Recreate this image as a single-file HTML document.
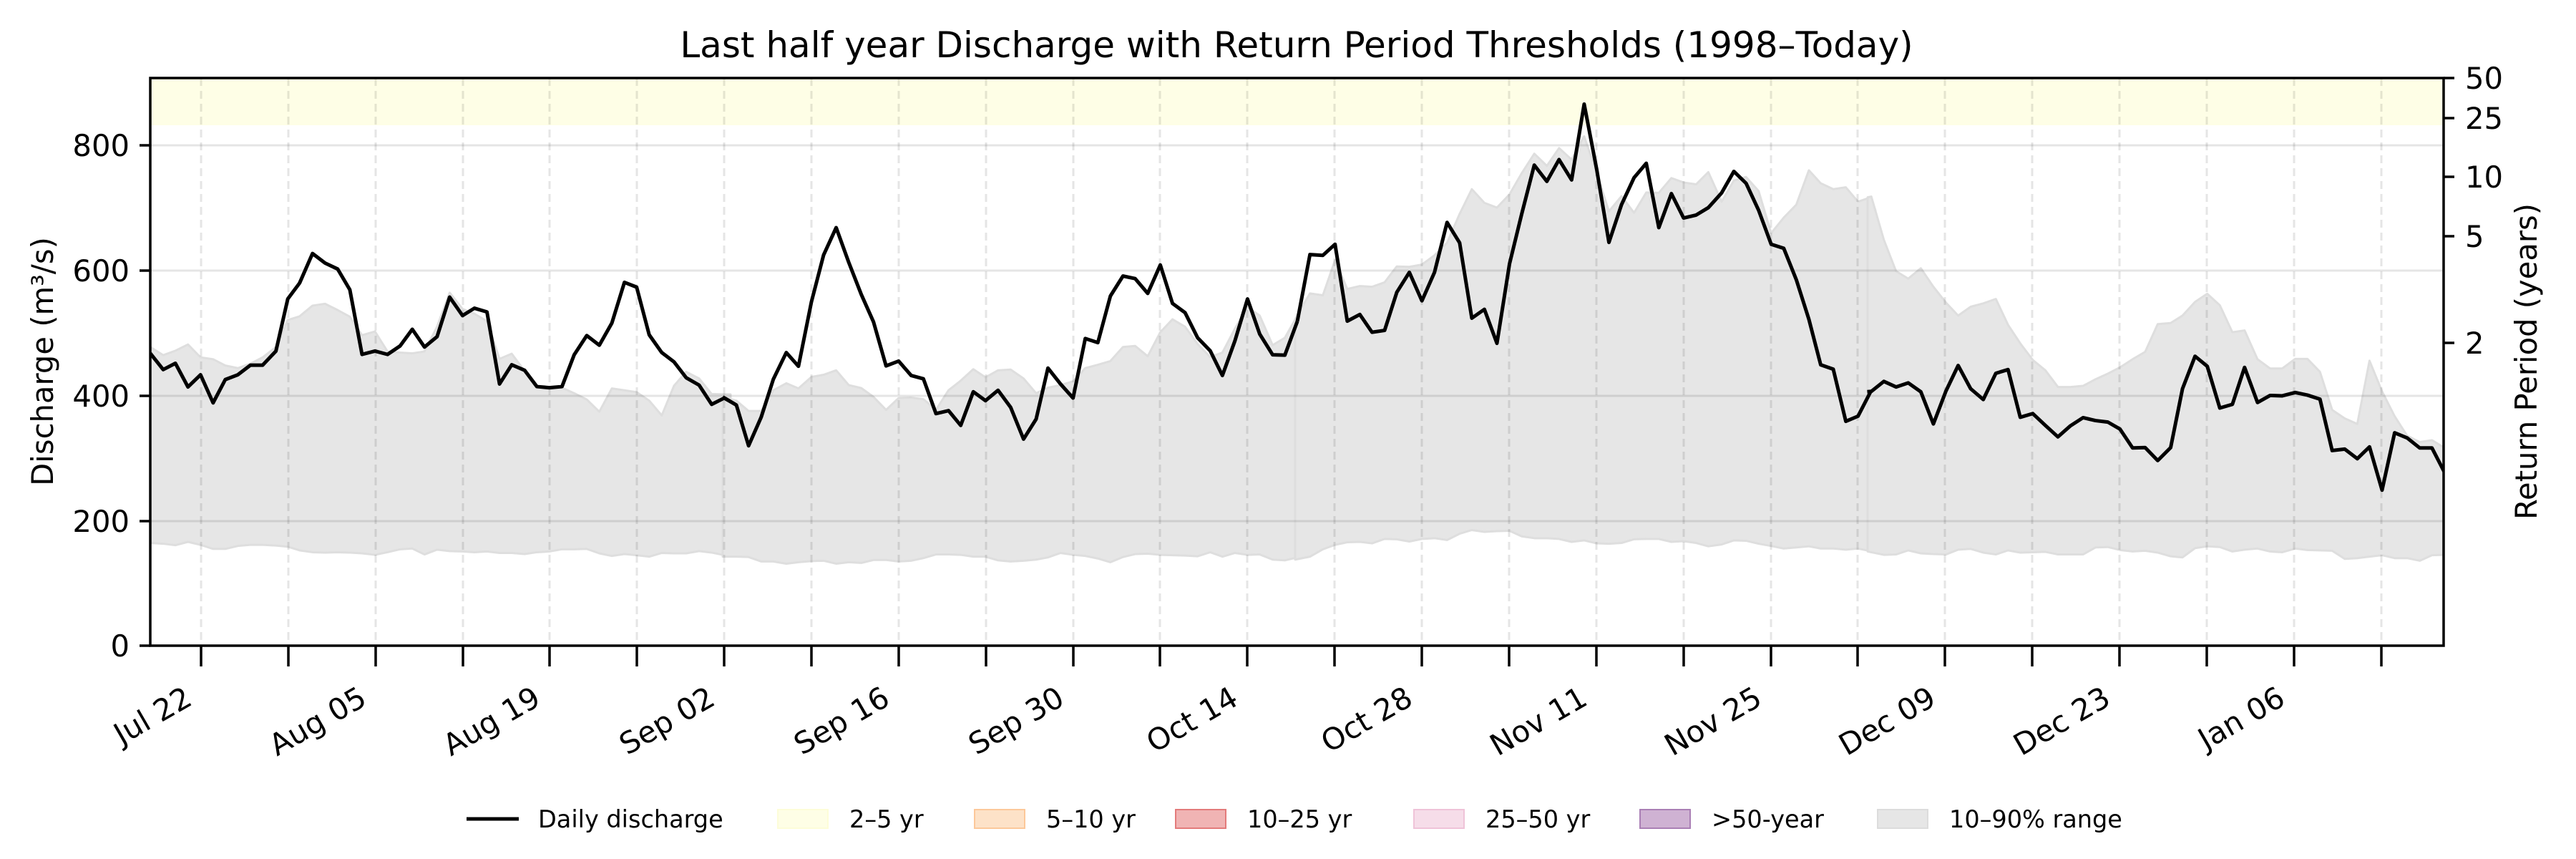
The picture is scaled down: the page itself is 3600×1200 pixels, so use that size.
<!DOCTYPE html>
<html><head><meta charset="utf-8"><style>
html,body{margin:0;padding:0;background:#fff;}
svg{display:block;font-family:"DejaVu Sans","Liberation Sans",sans-serif;}
</style></head><body>
<svg width="3600" height="1200" viewBox="0 0 3600 1200" xmlns="http://www.w3.org/2000/svg">
<defs><clipPath id="pc"><rect x="210" y="109" width="3205" height="793"/></clipPath></defs>
<rect width="3600" height="1200" fill="#fff"/>
<g clip-path="url(#pc)">
<rect x="210" y="109" width="3205" height="66" fill="#fefee6"/>
<g fill="#e6e6e6" stroke="#dedede" stroke-width="3" stroke-linejoin="round">
<g transform="translate(210,100) scale(0.5165)"><polygon vector-effect="non-scaling-stroke" points="0,745 35,767 68,755 102,738 136,773 170,778 203,795 237,802 271,790 304,773 340,745 372,672 404,662 439,633 473,628 507,645 540,663 573,713 608,703 642,757 676,760 709,762 742,757 776,690 810,598 845,642 877,655 911,675 945,777 978,763 1013,810 1046,852 1080,860 1114,855 1147,870 1181,887 1215,920 1249,857 1283,862 1316,867 1350,890 1384,930 1417,850 1450,812 1485,830 1519,872 1553,873 1570,873 1570,1308 1553,1308 1519,1301 1485,1297 1450,1303 1417,1303 1384,1302 1350,1312 1316,1308 1283,1305 1249,1310 1215,1303 1181,1291 1147,1292 1114,1292 1080,1298 1046,1300 1013,1305 978,1302 945,1302 911,1298 877,1300 845,1298 810,1297 776,1293 742,1306 709,1290 676,1292 642,1300 608,1307 573,1303 540,1301 507,1300 473,1301 439,1300 404,1295 372,1285 340,1282 304,1280 271,1280 237,1283 203,1291 170,1291 136,1280 102,1272 68,1281 35,1277 0,1275 -20,1275 -20,745"/></g>
<g transform="translate(1010,100) scale(0.5165)"><polygon vector-effect="non-scaling-stroke" points="0,880 37,890 70,918 104,918 137,862 172,843 205,857 240,826 273,820 307,808 341,848 375,856 408,880 442,915 476,883 510,882 543,886 577,915 611,862 644,836 678,805 711,827 745,808 779,806 814,830 848,870 880,855 914,848 948,838 981,802 1015,793 1049,783 1083,745 1116,742 1150,770 1184,705 1217,670 1251,690 1285,737 1319,772 1352,760 1386,695 1420,637 1453,660 1488,740 1521,720 1555,660 1570,645 1570,1314 1555,1314 1521,1322 1488,1320 1453,1306 1420,1307 1386,1302 1352,1312 1319,1300 1285,1311 1251,1309 1217,1308 1184,1307 1150,1304 1116,1305 1083,1313 1049,1327 1015,1317 981,1310 948,1307 914,1302 880,1314 848,1320 814,1323 779,1325 745,1322 711,1312 678,1312 644,1307 611,1306 577,1306 543,1316 510,1323 476,1325 442,1321 408,1321 375,1329 341,1327 307,1331 273,1323 240,1324 205,1327 172,1331 137,1325 104,1325 70,1313 37,1312 0,1312"/></g>
<g transform="translate(1810,100) scale(0.5165)"><polygon vector-effect="non-scaling-stroke" points="8,655 40,600 75,605 108,510 141,588 175,580 208,582 242,570 275,527 309,528 343,522 377,497 411,463 445,385 478,318 512,355 546,368 580,332 613,275 647,222 681,255 714,207 748,238 782,175 816,275 849,378 883,337 917,382 950,327 984,328 1018,288 1051,300 1085,305 1118,272 1154,352 1187,295 1220,285 1254,323 1288,437 1322,395 1356,360 1390,267 1422,302 1456,318 1490,313 1523,352 1557,340 1570,375 1570,1297 1557,1297 1523,1290 1490,1293 1456,1290 1422,1290 1390,1284 1356,1287 1322,1290 1288,1283 1254,1277 1220,1269 1187,1268 1154,1279 1118,1284 1085,1275 1051,1270 1018,1272 984,1264 950,1264 917,1265 883,1275 849,1277 816,1276 782,1268 748,1272 714,1264 681,1262 647,1262 613,1257 580,1242 546,1243 512,1245 478,1240 445,1250 411,1267 377,1262 343,1264 309,1271 275,1265 242,1264 208,1276 175,1272 141,1273 108,1280 75,1292 40,1312 0,1320 0,670"/></g>
<g transform="translate(2610,100) scale(0.5165)"><polygon vector-effect="non-scaling-stroke" points="0,340 10,338 44,455 77,540 110,560 144,532 178,582 212,625 245,660 279,636 313,627 347,615 380,685 413,735 447,780 481,808 515,853 549,853 583,850 617,832 650,817 683,800 717,778 751,758 785,683 820,680 852,660 886,623 919,601 953,632 987,705 1020,700 1055,778 1089,803 1122,803 1157,777 1190,777 1224,812 1257,915 1291,938 1325,953 1358,782 1392,865 1426,932 1460,985 1494,1002 1527,997 1560,1017 1600,1017 1600,1307 1560,1307 1527,1308 1494,1323 1460,1316 1426,1316 1392,1308 1358,1312 1325,1316 1291,1318 1257,1296 1224,1295 1190,1294 1157,1290 1122,1300 1089,1298 1055,1290 1020,1293 987,1298 953,1286 919,1284 886,1289 852,1314 820,1311 785,1301 751,1296 717,1298 683,1294 650,1286 617,1287 583,1306 549,1306 515,1306 481,1299 447,1300 413,1301 380,1295 347,1306 313,1301 279,1291 245,1293 212,1306 178,1305 144,1303 110,1295 77,1306 44,1307 0,1298"/></g>
</g>
<g stroke="#000" stroke-opacity="0.1" stroke-width="3">
<line x1="210" x2="3415" y1="728" y2="728"/><line x1="210" x2="3415" y1="553" y2="553"/><line x1="210" x2="3415" y1="378" y2="378"/><line x1="210" x2="3415" y1="203" y2="203"/>
</g>
<g stroke="#000" stroke-opacity="0.1" stroke-width="3" stroke-dasharray="11,7">
<line x1="281" x2="281" y1="109" y2="902"/><line x1="403" x2="403" y1="109" y2="902"/><line x1="525" x2="525" y1="109" y2="902"/><line x1="647" x2="647" y1="109" y2="902"/><line x1="768" x2="768" y1="109" y2="902"/><line x1="890" x2="890" y1="109" y2="902"/><line x1="1012" x2="1012" y1="109" y2="902"/><line x1="1134" x2="1134" y1="109" y2="902"/><line x1="1256" x2="1256" y1="109" y2="902"/><line x1="1378" x2="1378" y1="109" y2="902"/><line x1="1500" x2="1500" y1="109" y2="902"/><line x1="1621" x2="1621" y1="109" y2="902"/><line x1="1743" x2="1743" y1="109" y2="902"/><line x1="1865" x2="1865" y1="109" y2="902"/><line x1="1987" x2="1987" y1="109" y2="902"/><line x1="2109" x2="2109" y1="109" y2="902"/><line x1="2231" x2="2231" y1="109" y2="902"/><line x1="2353" x2="2353" y1="109" y2="902"/><line x1="2475" x2="2475" y1="109" y2="902"/><line x1="2596" x2="2596" y1="109" y2="902"/><line x1="2718" x2="2718" y1="109" y2="902"/><line x1="2840" x2="2840" y1="109" y2="902"/><line x1="2962" x2="2962" y1="109" y2="902"/><line x1="3084" x2="3084" y1="109" y2="902"/><line x1="3206" x2="3206" y1="109" y2="902"/><line x1="3328" x2="3328" y1="109" y2="902"/>
</g>
<g fill="none" stroke="#000" stroke-width="5" stroke-linejoin="round">
<g transform="translate(210,100) scale(0.5165)"><polyline vector-effect="non-scaling-stroke" points="0,762 35,806 68,789 102,853 136,820 170,896 203,833 237,820 271,794 304,794 340,756 372,615 404,572 439,492 473,518 507,534 540,590 573,765 608,756 642,765 676,742 709,697 742,745 776,717 810,610 845,660 877,640 911,650 945,845 978,793 1013,808 1046,852 1080,855 1114,852 1147,766 1181,714 1215,740 1249,680 1283,570 1316,583 1350,712 1384,760 1417,785 1450,828 1485,848 1519,900 1553,883 1586,902"/></g>
<g transform="translate(1010,100) scale(0.5165)"><polyline vector-effect="non-scaling-stroke" points="0,880 37,902 70,1012 104,935 137,832 172,760 205,797 240,623 273,496 307,422 341,516 375,603 408,677 442,796 476,783 510,822 543,831 577,925 611,917 644,957 678,866 711,890 745,862 779,908 814,994 848,940 880,802 914,845 948,883 981,722 1015,733 1049,607 1083,553 1116,560 1150,600 1184,523 1217,627 1251,652 1285,720 1319,755 1352,822 1386,728 1420,615 1453,710 1488,766 1521,767 1555,675"/></g>
<g transform="translate(1810,100) scale(0.5165)"><polyline vector-effect="non-scaling-stroke" points="6,675 40,495 75,497 108,467 141,675 175,657 208,705 242,700 275,597 309,543 343,620 377,543 411,408 445,463 478,667 512,643 546,735 580,520 613,385 647,253 681,297 714,238 748,293 782,88 816,265 849,462 883,360 917,287 950,248 984,422 1018,330 1051,396 1085,388 1118,368 1154,328 1187,270 1220,302 1254,375 1288,467 1322,478 1356,563 1390,670 1422,793 1456,805 1490,946 1523,932 1557,866 1559,865"/></g>
<g transform="translate(2610,100) scale(0.5165)"><polyline vector-effect="non-scaling-stroke" points="-1,866 10,865 44,838 77,853 110,842 144,866 178,953 212,864 245,795 279,858 313,887 347,816 380,806 413,935 447,925 481,957 515,988 549,958 583,936 617,944 650,948 683,967 717,1018 751,1017 785,1052 820,1017 852,858 886,770 919,797 953,910 987,900 1020,800 1055,895 1089,876 1122,877 1157,868 1190,875 1224,886 1257,1025 1291,1021 1325,1047 1358,1015 1392,1132 1426,977 1460,991 1494,1018 1527,1018 1560,1082"/></g>
</g>
</g>
<rect x="210" y="109" width="3205" height="793" fill="none" stroke="#000" stroke-width="3.5"/>
<g stroke="#000" stroke-width="3.5">
<line x1="195" x2="210" y1="902" y2="902"/><line x1="195" x2="210" y1="728" y2="728"/><line x1="195" x2="210" y1="553" y2="553"/><line x1="195" x2="210" y1="378" y2="378"/><line x1="195" x2="210" y1="203" y2="203"/>
<line x1="3415" x2="3430" y1="109" y2="109"/><line x1="3415" x2="3430" y1="165" y2="165"/><line x1="3415" x2="3430" y1="247" y2="247"/><line x1="3415" x2="3430" y1="330" y2="330"/><line x1="3415" x2="3430" y1="479" y2="479"/>
</g>
<g font-size="41.7" text-anchor="end" fill="#000">
<text x="181" y="917">0</text><text x="181" y="743">200</text><text x="181" y="568">400</text><text x="181" y="393">600</text><text x="181" y="218">800</text>
</g>
<g font-size="41.7" text-anchor="start" fill="#000">
<text x="3445" y="124">50</text><text x="3445" y="180">25</text><text x="3445" y="262">10</text><text x="3445" y="345">5</text><text x="3445" y="494">2</text>
</g>
<text transform="translate(74,505) rotate(-90)" font-size="41.7" text-anchor="middle">Discharge (m³/s)</text>
<text transform="translate(3545,505) rotate(-90)" font-size="41.7" text-anchor="middle">Return Period (years)</text>
<text x="1812" y="80" font-size="50" text-anchor="middle">Last half year Discharge with Return Period Thresholds (1998–Today)</text>
<g stroke="#000" stroke-width="3.5">
<line x1="281" x2="281" y1="902" y2="931"/><line x1="403" x2="403" y1="902" y2="931"/><line x1="525" x2="525" y1="902" y2="931"/><line x1="647" x2="647" y1="902" y2="931"/><line x1="768" x2="768" y1="902" y2="931"/><line x1="890" x2="890" y1="902" y2="931"/><line x1="1012" x2="1012" y1="902" y2="931"/><line x1="1134" x2="1134" y1="902" y2="931"/><line x1="1256" x2="1256" y1="902" y2="931"/><line x1="1378" x2="1378" y1="902" y2="931"/><line x1="1500" x2="1500" y1="902" y2="931"/><line x1="1621" x2="1621" y1="902" y2="931"/><line x1="1743" x2="1743" y1="902" y2="931"/><line x1="1865" x2="1865" y1="902" y2="931"/><line x1="1987" x2="1987" y1="902" y2="931"/><line x1="2109" x2="2109" y1="902" y2="931"/><line x1="2231" x2="2231" y1="902" y2="931"/><line x1="2353" x2="2353" y1="902" y2="931"/><line x1="2475" x2="2475" y1="902" y2="931"/><line x1="2596" x2="2596" y1="902" y2="931"/><line x1="2718" x2="2718" y1="902" y2="931"/><line x1="2840" x2="2840" y1="902" y2="931"/><line x1="2962" x2="2962" y1="902" y2="931"/><line x1="3084" x2="3084" y1="902" y2="931"/><line x1="3206" x2="3206" y1="902" y2="931"/><line x1="3328" x2="3328" y1="902" y2="931"/>
</g>
<g font-size="41.7" text-anchor="end">
<text transform="translate(271,983) rotate(-30)">Jul 22</text>
<text transform="translate(515,983) rotate(-30)">Aug 05</text>
<text transform="translate(758,983) rotate(-30)">Aug 19</text>
<text transform="translate(1002,983) rotate(-30)">Sep 02</text>
<text transform="translate(1246,983) rotate(-30)">Sep 16</text>
<text transform="translate(1490,983) rotate(-30)">Sep 30</text>
<text transform="translate(1733,983) rotate(-30)">Oct 14</text>
<text transform="translate(1977,983) rotate(-30)">Oct 28</text>
<text transform="translate(2221,983) rotate(-30)">Nov 11</text>
<text transform="translate(2465,983) rotate(-30)">Nov 25</text>
<text transform="translate(2708,983) rotate(-30)">Dec 09</text>
<text transform="translate(2952,983) rotate(-30)">Dec 23</text>
<text transform="translate(3196,983) rotate(-30)">Jan 06</text>
</g>
<g font-size="33.5">
<line x1="652" x2="725" y1="1144" y2="1144" stroke="#000" stroke-width="5"/>
<text x="752" y="1156">Daily discharge</text>
<rect x="1087" y="1131" width="70" height="26" fill="#fefee6" stroke="#fdfdd8" stroke-width="2"/>
<text x="1187" y="1156">2–5 yr</text>
<rect x="1362" y="1131" width="70" height="26" fill="#fde2c8" stroke="#fcc89a" stroke-width="2"/>
<text x="1462" y="1156">5–10 yr</text>
<rect x="1643" y="1131" width="70" height="26" fill="#f0b4b4" stroke="#e37b7b" stroke-width="2"/>
<text x="1743" y="1156">10–25 yr</text>
<rect x="1976" y="1131" width="70" height="26" fill="#f6dde9" stroke="#efc3d8" stroke-width="2"/>
<text x="2076" y="1156">25–50 yr</text>
<rect x="2292" y="1131" width="70" height="26" fill="#cfb2d3" stroke="#aa7fb5" stroke-width="2"/>
<text x="2392" y="1156">&gt;50-year</text>
<rect x="2624" y="1131" width="70" height="26" fill="#e6e6e6" stroke="#dcdcdc" stroke-width="2"/>
<text x="2724" y="1156">10–90% range</text>
</g>
</svg>
</body></html>
